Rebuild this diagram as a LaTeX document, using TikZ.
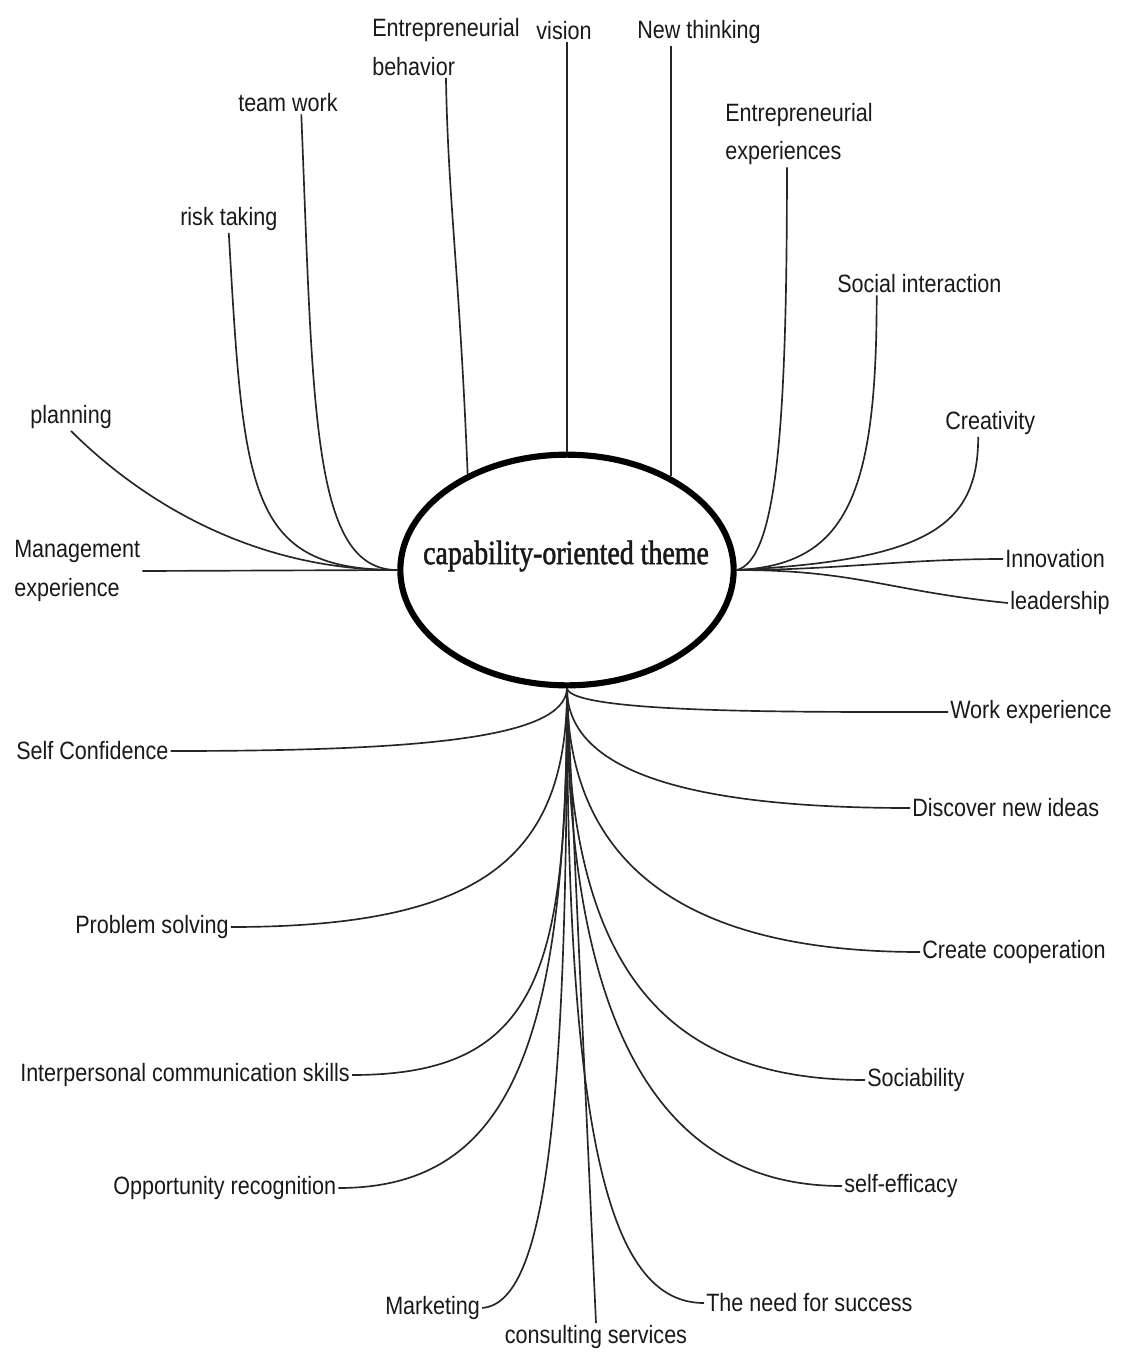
\documentclass[tikz,border=0pt]{standalone}
\usepackage{fontspec}
\setmainfont{Liberation Sans}[FakeStretch=0.86]
\newfontfamily\themefont{Liberation Serif}[FakeStretch=0.82,FakeBold=1.5]
\usetikzlibrary{shapes.geometric}

\begin{document}
\begin{tikzpicture}[x=0.75pt, y=-0.75pt]
        \tikzstyle{hub}=[draw, shape=ellipse, line width=4.6pt, fill=white, inner sep=0pt,
                minimum width=250pt, minimum height=173pt]
        \tikzstyle{leaf}=[inner sep=1.5pt, text=black!90, align=left,
                font=\fontsize{18.8}{29}\selectfont]
        \tikzstyle{link}=[draw, line width=1.25pt, black!85]

        \useasboundingbox (0,0) rectangle (1121,1354);

        \node[hub](theme) at (567,570){};
        \node[text=black!90, font=\themefont\fontsize{25.5}{30}\selectfont](themeT) at (566,556){capability-oriented theme};

        % top
        \node[leaf, anchor=west](behav) at (370,47){Entrepreneurial\\behavior};
        \node[leaf](vis) at (564,31){vision};
        \node[leaf, anchor=west](newT) at (635,32){New thinking};
        \node[leaf, anchor=west](expE) at (723,134){Entrepreneurial\\experiences};
        \node[leaf, anchor=west](social) at (835,284){Social interaction};
        \node[leaf, anchor=west](creat) at (943,423){Creativity};
        \node[leaf, anchor=west](innov) at (1003,559){Innovation};
        \node[leaf, anchor=west](lead) at (1008,603){leadership};

        \node[leaf, anchor=west](team) at (236,103){team work};
        \node[leaf, anchor=west](risk) at (178,219){risk taking};
        \node[leaf, anchor=west](plan) at (28,417){planning};
        \node[leaf, anchor=west](mgmt) at (12,571){Management\\experience};

        % bottom
        \node[leaf, anchor=west](workE) at (948,712){Work experience};
        \node[leaf, anchor=west](discov) at (910,808){Discover new ideas};
        \node[leaf, anchor=west](coop) at (920,952){Create cooperation};
        \node[leaf, anchor=west](sociab) at (865,1080){Sociability};
        \node[leaf, anchor=west](selfE) at (842,1186){self-efficacy};
        \node[leaf, anchor=west](needS) at (704,1303){The need for success};
        \node[leaf](consult) at (596,1337){consulting services};
        \node[leaf, anchor=west](market) at (383,1308){Marketing};
        \node[leaf, anchor=west](opp) at (111,1188){Opportunity recognition};
        \node[leaf, anchor=west](comm) at (18,1075){Interpersonal communication skills};
        \node[leaf, anchor=west](probS) at (73,927){Problem solving};
        \node[leaf, anchor=west](selfC) at (14,751){Self Confidence};

        \draw[link] (theme.136) .. controls +(-8,-200) and +(2,120) .. (behav.south);
        \draw[link] (theme.north) -- (theme.north |- vis.south);
        \draw[link] (theme.42) -- (theme.42 |- newT.south);

        \draw[link] (theme.west) -- (mgmt.east);
        \draw[link] (theme.west) .. controls +(-160,0) and +(55,55) .. (plan.south);
        \draw[link] (theme.west) .. controls +(-150,0) and +(15,260) .. (risk.south);
        \draw[link] (theme.west) .. controls +(-85,0) and +(12,300) .. ([xshift=10pt]team.south);

        \draw[link] (theme.east) .. controls +(40,-10) and +(0,260) .. ([xshift=-9pt]expE.south);
        \draw[link] (theme.east) .. controls +(110,-5) and +(0,200) .. ([xshift=-32pt]social.south);
        \draw[link] (theme.east) .. controls +(190,-10) and +(0,90) .. ([xshift=-9pt]creat.south);
        \draw[link] (theme.east) .. controls +(100,0) and +(-100,0) .. (innov.west);
        \draw[link] (theme.east) .. controls +(120,0) and +(-120,-12) .. (lead.west);

        \draw[link] (theme.south) .. controls +(5,25) and +(-150,0) .. (workE.west);
        \draw[link] (theme.south) .. controls +(0,90) and +(-200,0) .. (discov.west);
        \draw[link] (theme.south) .. controls +(0,180) and +(-230,0) .. (coop.west);
        \draw[link] (theme.south) .. controls +(0,280) and +(-200,0) .. (sociab.west);
        \draw[link] (theme.south) .. controls +(0,360) and +(-170,0) .. (selfE.west);
        \draw[link] (theme.south) .. controls +(0,470) and +(-90,0) .. (needS.west);
        \draw[link] (theme.south) -- (consult.north);
        \draw[link] (theme.south) .. controls +(0,450) and +(60,-5) .. (market.east);
        \draw[link] (theme.south) .. controls +(0,360) and +(170,0) .. (opp.east);
        \draw[link] (theme.south) .. controls +(0,280) and +(190,0) .. (comm.east);
        \draw[link] (theme.south) .. controls +(0,170) and +(250,0) .. (probS.east);
        \draw[link] (theme.south) .. controls +(-2,50) and +(250,0) .. (selfC.east);

\end{tikzpicture}
\end{document}
